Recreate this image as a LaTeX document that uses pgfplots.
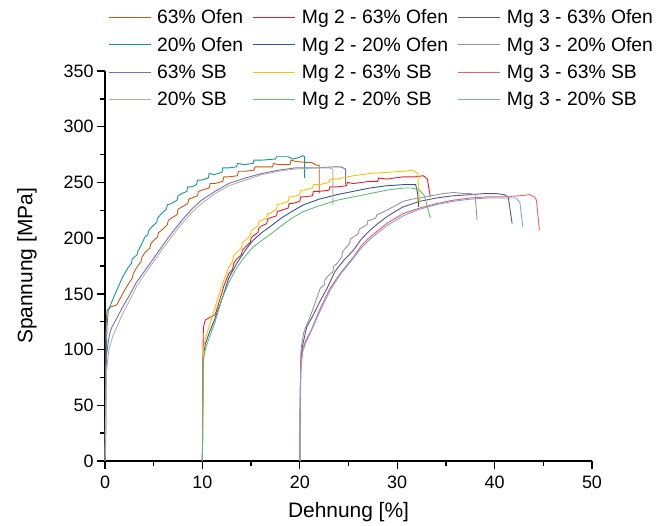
\documentclass[border=0pt]{standalone}
\usepackage{fontspec}
\setmainfont{Liberation Sans}
\usepackage{pgfplots}
\pgfplotsset{compat=1.18}
\definecolor{cOra}{RGB}{197,90,17}
\definecolor{cRed}{RGB}{228,30,38}
\definecolor{cSlate}{RGB}{88,84,140}
\definecolor{cTeal}{RGB}{20,150,150}
\definecolor{cDBlue}{RGB}{47,85,151}
\definecolor{cGray}{RGB}{150,150,150}
\definecolor{cPurp}{RGB}{120,110,180}
\definecolor{cGold}{RGB}{255,192,0}
\definecolor{cSalm}{RGB}{240,96,96}
\definecolor{cTan}{RGB}{185,175,168}
\definecolor{cGreen}{RGB}{90,190,120}
\definecolor{cLBlue}{RGB}{120,165,222}
\begin{document}
\begin{tikzpicture}
\begin{axis}[
  scale only axis, width=487bp, height=390bp,
  xmin=0, xmax=50, ymin=0, ymax=350,
  axis x line*=bottom, axis y line*=left,
  axis line style={line width=1.5bp, black},
  xtick={0,10,...,50}, ytick={0,50,...,350},
  minor x tick num=1, minor y tick num=1,
  tick align=outside,
  major tick length=8bp, minor tick length=4.5bp,
  every tick/.style={line width=1.3bp, black},
  tick label style={font=\fontsize{18}{20}\selectfont},
  xticklabel style={yshift=-3bp},
  /pgf/number format/assume math mode=true,
  xlabel={Dehnung [\%]}, ylabel={Spannung [MPa]},
  label style={font=\fontsize{21}{24}\selectfont},
  xlabel style={yshift=-7bp},
  ylabel style={yshift=20bp},
  clip=false,
  legend columns=3,
  legend style={at={(axis description cs:0.0,1.168)}, anchor=north west, draw=none, fill=none,
    font=\fontsize{19.4}{22}\selectfont, row sep=8bp,
    /tikz/every odd column/.append style={column sep=4bp},
    /tikz/every even column/.append style={column sep=8bp}},
  legend cell align=left,
  legend image code/.code={\draw[#1] (0bp,0bp) -- (42bp,0bp);},
  every axis plot/.append style={line width=0.9bp},
]
% 63% Ofen
\addplot[cOra] coordinates {(0,0) (0.05,60) (0.1,120) (0.2,135) (0.5,138) (1.2,140) (1.5,145) (2.0,153) (2.4,159) (2.8,164) (2.9,168) (3.2,173) (3.7,179) (3.8,183) (4.1,187) (4.6,191) (4.7,195) (5,198) (5.4,201) (5.5,205) (5.8,207) (6.4,212) (6.5,216) (6.8,218) (7.4,221) (7.5,226) (7.9,228) (8.5,231) (8.6,235) (8.9,236) (9.5,238) (9.6,242) (9.9,243) (10.7,245) (10.8,249) (11.3,249) (12.1,251) (12.2,255) (12.7,255) (13.6,256) (13.7,260) (14.4,260) (15.3,261) (15.4,264) (16.1,264) (17.2,264) (17.3,267) (17.8,266) (19,266) (19.1,270) (19.5,269) (20.5,268) (21.2,268) (21.6,266) (22.0,265) (22.0,240)};
\addlegendentry{63\% Ofen}
% Mg 2 - 63% Ofen
\addplot[cRed] coordinates {(10,0) (10.02,40) (10.05,90) (10.1,120) (10.3,126.5) (10.8,129) (11.3,131) (11.8,145) (12.2,157) (12.7,168) (13.1,172) (13.2,177) (13.5,181) (14,185) (14.1,189) (14.4,192) (14.9,196) (15,200) (15.2,202) (15.7,205) (15.8,209) (16.1,211) (16.6,213) (16.7,217) (16.9,218) (17.6,220) (17.7,224) (18.1,225) (18.8,227) (18.9,231) (19.2,231) (20,233) (20.1,237) (20.4,237) (21.3,238) (21.4,242) (22,242) (23,243) (23.1,246) (23.8,246) (24.8,247) (24.9,250) (25.5,249) (27.2,251) (28,251) (28.1,254) (28.9,253) (30.6,255) (31.8,255) (32.7,256) (33.1,253) (33.4,237)};
\addlegendentry{Mg 2 - 63\% Ofen}
% Mg 3 - 63% Ofen
\addplot[cSlate] coordinates {(20,0) (20.03,40) (20.1,90) (20.2,100) (20.5,112) (20.7,120) (21.2,128) (22,142) (22.8,155) (23.6,170) (24.5,180) (25.5,189) (26.3,199) (27.2,207) (28,213) (28.9,219) (29.8,224) (30.6,228) (32.3,233) (34,236) (35.7,238) (37.5,239) (39,240) (40.2,240) (41,239) (41.4,237) (41.8,213)};
\addlegendentry{Mg 3 - 63\% Ofen}
% 20% Ofen
\addplot[cTeal] coordinates {(0,0) (0.08,20) (0.1,60) (0.15,100) (0.2,120) (0.34,135) (0.8,145) (1.3,155) (1.8,165) (2.4,174) (2.7,177) (2.8,181) (3,183) (3.3,185) (3.4,189) (3.5,190) (4.1,201) (4.4,203) (4.5,207) (4.9,211) (5.3,214) (5.4,218) (5.8,222) (6.3,226) (6.4,230) (6.8,231) (7.4,234) (7.5,238) (7.9,240) (8.4,242) (8.5,246) (8.9,246) (9.4,248) (9.5,252) (9.9,252) (10.6,254) (10.7,258) (11.2,257) (12,259) (12.1,263) (12.7,263) (13.5,264) (13.6,267) (14.3,266) (15.2,267) (15.3,270) (16.1,270) (17.5,271) (17.6,273) (18.8,273) (19.3,271) (19.8,272) (20.3,274) (20.5,273) (20.5,254)};
\addlegendentry{20\% Ofen}
% Mg 2 - 20% Ofen
\addplot[cDBlue] coordinates {(10,0) (10.05,60) (10.1,95) (10.3,105) (10.7,115) (11.3,128) (12,145) (12.7,164) (13.5,177) (14.4,189) (15.2,198) (16.1,205) (16.9,210) (18.1,218) (19.2,224) (20.4,230) (22,235) (23.8,239) (25.5,242) (27.2,245) (28.9,247) (30.6,248) (31.9,248) (32.1,240) (32.2,228)};
\addlegendentry{Mg 2 - 20\% Ofen}
% Mg 3 - 20% Ofen
\addplot[cGray] coordinates {(20,0) (20.03,50) (20.1,95) (20.2,105) (20.4,115) (20.6,120) (21,128) (21.5,140) (22.1,155) (22.5,158) (22.6,163) (22.9,166) (23.4,170) (23.5,175) (23.8,177) (24.3,183) (24.4,188) (24.6,190) (25.1,195) (25.2,199) (25.5,201) (26,204) (26.1,208) (26.3,209) (26.9,212) (27,216) (27.2,216) (27.8,218) (27.9,221) (28,221) (28.9,225) (29.8,229) (30.6,233) (31.5,235) (32.3,236) (33.5,238) (34.7,240) (35.8,241) (36.8,240) (37.5,240) (38,239) (38.2,216)};
\addlegendentry{Mg 3 - 20\% Ofen}
% 63% SB
\addplot[cPurp] coordinates {(0,0) (0.05,40) (0.1,90) (0.3,105) (0.5,115) (0.7,120) (1.2,128) (1.8,138) (2.4,147) (3.2,160) (4.1,171) (5,182) (5.8,192) (6.8,204) (7.9,216) (8.9,226) (9.9,234) (11.3,242) (12.7,249) (14.4,254) (16.1,258) (17.8,261) (19.5,263) (21.5,263) (23.6,264) (24.2,264) (24.7,262) (24.7,248)};
\addlegendentry{63\% SB}
% Mg 2 - 63% SB
\addplot[cGold] coordinates {(10,0) (10.05,50) (10.1,100) (10.3,110) (10.6,118) (11.2,135) (11.9,155) (12.7,174) (13.1,179) (13.2,184) (13.5,187) (14,191) (14.1,196) (14.4,198) (14.9,202) (15,206) (15.2,208) (15.7,211) (15.8,215) (16.1,216) (16.6,218) (16.7,222) (16.9,222) (17.6,226) (17.7,230) (18.1,231) (18.8,233) (18.9,237) (19.2,237) (20,239) (20.1,243) (20.4,243) (21.3,245) (21.4,248) (22,248) (23,250) (23.1,253) (23.8,253) (25.5,256) (27.2,258) (28.9,259) (30.6,260) (31.6,261) (32.1,258) (32.3,231)};
\addlegendentry{Mg 2 - 63\% SB}
% Mg 3 - 63% SB
\addplot[cSalm] coordinates {(20,0) (20.03,40) (20.1,90) (20.3,100) (20.6,108) (21.2,118) (22,135) (23.1,155) (24.2,169) (25.5,183) (26.3,193) (27.2,201) (28.9,213) (30.6,222) (32.3,227) (34,231) (35.7,234) (37.5,236) (39.2,237) (40.9,237) (42.5,238) (43.6,239) (44.1,237) (44.3,234) (44.6,207)};
\addlegendentry{Mg 3 - 63\% SB}
% 20% SB
\addplot[cTan] coordinates {(0,0) (0.05,30) (0.15,80) (0.4,100) (0.8,112) (1.3,122) (1.8,132) (2.4,142) (3.2,156) (4.1,168) (5,179) (5.8,189) (6.8,201) (7.9,213) (8.9,223) (9.9,231) (11.3,240) (12.7,247) (14.4,252) (16.1,257) (17.8,260) (19.5,262) (21.5,263) (23.0,263) (23.4,262) (23.4,230)};
\addlegendentry{20\% SB}
% Mg 2 - 20% SB
\addplot[cGreen] coordinates {(10,0) (10.05,50) (10.1,90) (10.3,100) (10.6,108) (11.3,125) (12,145) (12.7,160) (13.5,173) (14.4,184) (15.2,192) (16.1,198) (16.9,203) (18.1,211) (19.2,218) (20.4,224) (22,229) (23.8,234) (25.5,237) (27.2,240) (28.9,243) (30.6,245) (31.5,245) (32.3,243) (32.8,238) (33.4,218)};
\addlegendentry{Mg 2 - 20\% SB}
% Mg 3 - 20% SB
\addplot[cLBlue] coordinates {(20,0) (20.03,30) (20.1,80) (20.3,98) (20.6,106) (21.2,117) (22,133) (23.1,153) (24.2,168) (25.5,182) (26.3,191) (27.2,199) (28.9,211) (30.6,220) (32.3,226) (34,230) (35.7,233) (37.5,235) (39.2,236) (40.9,236) (42.2,236) (42.6,232) (42.9,210)};
\addlegendentry{Mg 3 - 20\% SB}
\end{axis}
\pgfresetboundingbox
\path ([xshift=-105bp,yshift=-65bp]current axis.south west) rectangle ([xshift=562bp,yshift=461bp]current axis.south west);
\end{tikzpicture}
\end{document}
